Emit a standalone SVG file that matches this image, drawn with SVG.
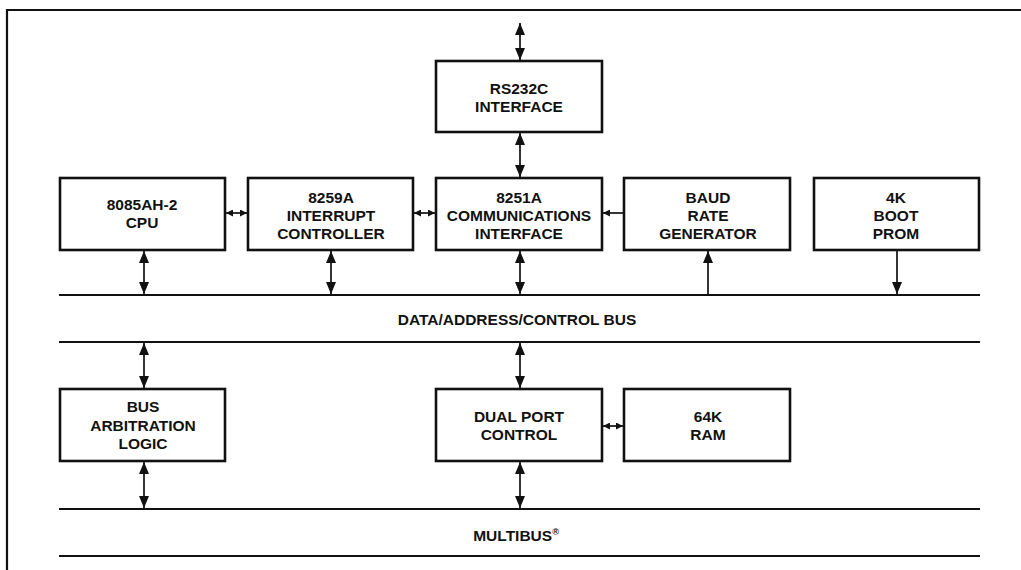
<svg xmlns="http://www.w3.org/2000/svg" width="1021" height="570" viewBox="0 0 1021 570">
<style>
.box{fill:#fff;stroke:#111;stroke-width:2.6}
.t{font-family:"Liberation Sans",Arial,sans-serif;font-weight:bold;font-size:15.5px;fill:#111;text-anchor:middle}
.bus{stroke:#111;stroke-width:2.2;fill:none}
.c{stroke:#111;stroke-width:1.7;fill:none}
</style>
<defs>
<marker id="ah" markerUnits="userSpaceOnUse" markerWidth="13" markerHeight="10" refX="12" refY="5" orient="auto-start-reverse">
<path d="M0,0 L12,5 L0,10 z" fill="#111"/>
</marker>
<marker id="as" markerUnits="userSpaceOnUse" markerWidth="8" markerHeight="7" refX="7" refY="3.5" orient="auto-start-reverse">
<path d="M0,0 L7,3.5 L0,7 z" fill="#111"/>
</marker>
</defs>
<g id="frame">
<path d="M1021,10 L7,10 L7,570" fill="none" stroke="#111" stroke-width="2.2"/>
</g>
<g id="buses">
<line class="bus" x1="59" y1="295" x2="980" y2="295"/>
<line class="bus" x1="59" y1="342" x2="980" y2="342"/>
<line class="bus" x1="59" y1="509" x2="980" y2="509"/>
<line class="bus" x1="59" y1="556" x2="980" y2="556"/>
<text class="t" x="517" y="325">DATA/ADDRESS/CONTROL BUS</text>
<text class="t" x="516" y="541">MULTIBUS<tspan font-size="9" dy="-6">®</tspan></text>
</g>
<g id="connectors">
<line class="c" x1="520" y1="23" x2="520" y2="60" marker-start="url(#ah)" marker-end="url(#ah)"/>
<line class="c" x1="520" y1="133" x2="520" y2="177" marker-start="url(#ah)" marker-end="url(#ah)"/>
<line class="c" x1="226" y1="213" x2="247" y2="213" marker-start="url(#as)" marker-end="url(#as)"/>
<line class="c" x1="414" y1="213" x2="435" y2="213" marker-start="url(#as)" marker-end="url(#as)"/>
<line class="c" x1="624" y1="213" x2="603" y2="213" marker-end="url(#as)"/>
<line class="c" x1="144" y1="251" x2="144" y2="294" marker-start="url(#ah)" marker-end="url(#ah)"/>
<line class="c" x1="331" y1="251" x2="331" y2="294" marker-start="url(#ah)" marker-end="url(#ah)"/>
<line class="c" x1="520" y1="251" x2="520" y2="294" marker-start="url(#ah)" marker-end="url(#ah)"/>
<line class="c" x1="708" y1="295" x2="708" y2="251" marker-end="url(#ah)"/>
<line class="c" x1="897" y1="251" x2="897" y2="294" marker-end="url(#ah)"/>
<line class="c" x1="144" y1="343" x2="144" y2="388" marker-start="url(#ah)" marker-end="url(#ah)"/>
<line class="c" x1="520" y1="343" x2="520" y2="388" marker-start="url(#ah)" marker-end="url(#ah)"/>
<line class="c" x1="144" y1="462" x2="144" y2="508" marker-start="url(#ah)" marker-end="url(#ah)"/>
<line class="c" x1="520" y1="462" x2="520" y2="508" marker-start="url(#ah)" marker-end="url(#ah)"/>
<line class="c" x1="603" y1="426" x2="623" y2="426" marker-start="url(#as)" marker-end="url(#as)"/>
</g>
<g id="rs232c">
<rect class="box" x="436" y="61" width="166" height="71"/>
<text class="t" x="519" y="94">RS232C</text>
<text class="t" x="519" y="112">INTERFACE</text>
</g>
<g id="cpu">
<rect class="box" x="60" y="178" width="165" height="72"/>
<text class="t" x="142" y="210">8085AH-2</text>
<text class="t" x="142" y="228">CPU</text>
</g>
<g id="pic">
<rect class="box" x="248" y="178" width="165" height="72"/>
<text class="t" x="331" y="203">8259A</text>
<text class="t" x="331" y="221">INTERRUPT</text>
<text class="t" x="331" y="239">CONTROLLER</text>
</g>
<g id="usart">
<rect class="box" x="436" y="178" width="166" height="72"/>
<text class="t" x="519" y="203">8251A</text>
<text class="t" x="519" y="221">COMMUNICATIONS</text>
<text class="t" x="519" y="239">INTERFACE</text>
</g>
<g id="baud">
<rect class="box" x="624" y="178" width="166" height="72"/>
<text class="t" x="708" y="203">BAUD</text>
<text class="t" x="708" y="221">RATE</text>
<text class="t" x="708" y="239">GENERATOR</text>
</g>
<g id="prom">
<rect class="box" x="814" y="178" width="165" height="72"/>
<text class="t" x="896" y="203">4K</text>
<text class="t" x="896" y="221">BOOT</text>
<text class="t" x="896" y="239">PROM</text>
</g>
<g id="arb">
<rect class="box" x="60" y="389" width="165" height="72"/>
<text class="t" x="143" y="412">BUS</text>
<text class="t" x="143" y="431">ARBITRATION</text>
<text class="t" x="143" y="449">LOGIC</text>
</g>
<g id="dualport">
<rect class="box" x="436" y="389" width="166" height="72"/>
<text class="t" x="519" y="422">DUAL PORT</text>
<text class="t" x="519" y="440">CONTROL</text>
</g>
<g id="ram">
<rect class="box" x="624" y="389" width="166" height="72"/>
<text class="t" x="708" y="422">64K</text>
<text class="t" x="708" y="440">RAM</text>
</g>
</svg>
